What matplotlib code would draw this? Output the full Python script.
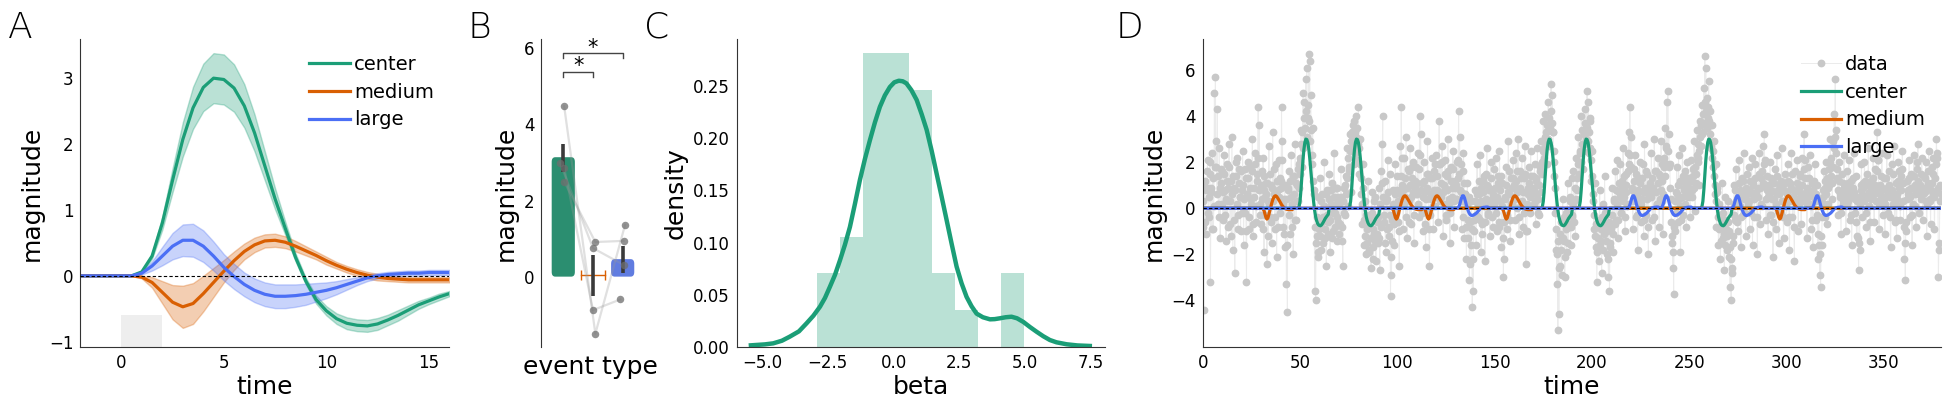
"""
Four-panel figure: response kernels, event-type betas, beta density and a simulated time series.
"""

import numpy as np
import matplotlib.pyplot as plt
from matplotlib.patches import FancyBboxPatch

plt.rcParams["font.family"] = ["DejaVu Sans"]

GREEN = "#1b9e77"
ORANGE = "#d95f02"
BLUE = "#4b6ff5"
SPINE = "#333333"

# --- panel A: kernels (time step 0.5 from -2 to 16) ---
kernel_time = np.arange(-2, 16.5, 0.5)
center_mean = [0, 0, 0, 0, 0, 0, 0.06, 0.3, 0.8, 1.45, 2.07, 2.55, 2.86, 3.0, 2.98,
               2.85, 2.58, 2.17, 1.67, 1.17, 0.72, 0.28, -0.08, -0.36, -0.53, -0.65,
               -0.72, -0.75, -0.76, -0.73, -0.67, -0.6, -0.52, -0.44, -0.38, -0.32, -0.27]
center_sem = [0, 0, 0, 0, 0, 0, 0.01, 0.04, 0.1, 0.18, 0.26, 0.32, 0.36, 0.38, 0.38,
              0.36, 0.33, 0.28, 0.22, 0.16, 0.1, 0.06, 0.05, 0.06, 0.07, 0.08,
              0.09, 0.09, 0.09, 0.09, 0.08, 0.08, 0.07, 0.06, 0.05, 0.05, 0.04]
medium_mean = [0, 0, 0, 0, 0, 0, -0.02, -0.1, -0.25, -0.4, -0.47, -0.42, -0.27, -0.1, 0.07,
               0.23, 0.37, 0.47, 0.53, 0.54, 0.51, 0.45, 0.38, 0.31, 0.23, 0.16,
               0.1, 0.05, 0.01, -0.02, -0.04, -0.05, -0.06, -0.06, -0.06, -0.06, -0.06]
medium_sem = [0, 0, 0, 0, 0, 0, 0.02, 0.08, 0.17, 0.26, 0.32, 0.31, 0.27, 0.22, 0.17,
              0.14, 0.12, 0.11, 0.1, 0.1, 0.09, 0.08, 0.07, 0.06, 0.06, 0.05,
              0.05, 0.05, 0.05, 0.05, 0.04, 0.04, 0.04, 0.04, 0.04, 0.04, 0.04]
large_mean = [0, 0, 0, 0, 0, 0, 0.04, 0.15, 0.3, 0.45, 0.54, 0.54, 0.45, 0.3, 0.13,
              -0.01, -0.13, -0.22, -0.28, -0.31, -0.31, -0.3, -0.28, -0.25, -0.22, -0.18,
              -0.13, -0.08, -0.03, 0.0, 0.02, 0.03, 0.04, 0.04, 0.05, 0.05, 0.05]
large_sem = [0, 0, 0, 0, 0, 0, 0.02, 0.07, 0.14, 0.2, 0.24, 0.25, 0.24, 0.22, 0.2,
             0.19, 0.18, 0.18, 0.18, 0.18, 0.18, 0.17, 0.16, 0.14, 0.12, 0.1,
             0.08, 0.06, 0.05, 0.04, 0.04, 0.04, 0.04, 0.04, 0.04, 0.04, 0.04]
stim_onset, stim_duration, stim_top = 0, 2, -0.6

# --- panel B: event-type magnitudes ---
event_types = ["center", "medium", "large"]
bar_heights = [3.14, 0.04, 0.46]
ci_low = [2.76, -0.5, 0.09]
ci_high = [3.5, 0.56, 0.8]
subject_values = [[4.48, -1.5, 1.36],
                  [2.86, -0.88, -0.6],
                  [2.5, 0.91, 0.94],
                  [3.0, 0.75, 0.31]]
subject_offsets = [[0.03, 0.08, 0.08],
                   [0.03, 0.0, -0.08],
                   [0.03, 0.08, 0.03],
                   [-0.11, 0.0, 0.03]]
sig_pairs = [(0, 1), (0, 2)]
sig_levels = [5.39, 5.87]

# --- panel C: beta distribution ---
hist_edges = [-2.93, -2.04, -1.17, -0.29, 0.57, 1.46, 2.34, 3.21, 4.09, 4.96]
hist_density = [0.0706, 0.1054, 0.2816, 0.2816, 0.2462, 0.0706, 0.0354, 0.0, 0.0706]
kde_x = [-5.43, -4.9, -4.58, -4.25, -3.95, -3.6, -3.31, -3.05, -2.80, -2.61,
         -2.42, -2.23, -2.04, -1.85, -1.66, -1.47, -1.28, -1.09, -0.90, -0.71,
         -0.52, -0.33, -0.14, 0.03, 0.20, 0.35, 0.49, 0.68, 0.88, 1.07,
         1.26, 1.45, 1.64, 1.83, 2.02, 2.21, 2.40, 2.59, 2.78, 2.97,
         3.16, 3.4, 3.67, 3.85, 4.05, 4.27, 4.49, 4.7, 4.94, 5.2,
         5.44, 5.7, 5.95, 6.2, 6.59, 7.0, 7.47]
kde_y = [0.0016, 0.0025, 0.0035, 0.006, 0.0099, 0.015, 0.0227, 0.030, 0.0386, 0.047,
         0.0578, 0.069, 0.083, 0.098, 0.115, 0.137, 0.16, 0.18, 0.198, 0.215,
         0.230, 0.241, 0.249, 0.2535, 0.255, 0.2545, 0.2525, 0.246, 0.2366, 0.223,
         0.208, 0.188, 0.166, 0.144, 0.1216, 0.099, 0.077, 0.061, 0.048, 0.039,
         0.032, 0.0285, 0.0265, 0.0267, 0.0275, 0.0285, 0.029, 0.0275, 0.024, 0.019,
         0.0147, 0.0103, 0.0067, 0.0045, 0.0026, 0.0015, 0.001]

# --- panel D: time series and event onsets ---
kernel_step = 0.5
center_onsets = [48.5, 74.5, 173.5, 192.5, 255.5]
medium_onsets = [30.0, 96.5, 113.0, 153.0, 293.5]
large_onsets = [130.5, 218.0, 235.0, 271.5, 312.5]
# samples at t = 0, 0.5, 1.0, ...
data_on_grid = [
    -0.8, -4.4, 1.2, -1.1, 0.9, 2.1, -0.4, 1.5, -3.2, 0.7, 2.4, -0.9, 5.0, 5.7, 1.8, 4.3, 0.2, 2.6, -1.3, 1.1,
    1.6, -0.5, 2.3, 0.8, -1.4, 1.9, 0.3, 2.8, -0.7, 1.2, 3.1, -1.8, 0.9, -2.8, 1.4, 2.2, -0.3, 1.7, 0.5, -1.0,
    0.8, 2.5, -1.6, -0.2, 1.3, -3.2, 0.6, 2.0, -0.9, 1.8, 0.4, 3.0, -1.2, 0.9, 2.4, -0.6, 1.5, 4.4, 3.6, 0.2,
    -0.7, 1.6, 2.2, -1.9, 0.5, 1.1, -2.4, 0.3, 2.7, -0.4, 1.0, -1.5, 3.3, 0.6, -0.9, 1.9, -2.1, 0.8, 2.1, -0.2,
    1.2, 4.4, 2.9, -0.8, 0.4, -1.7, -3.3, -4.5, 0.9, 1.6, -1.1, 2.3, 0.2, -2.0, 1.4, 2.8, -0.5, 1.0, 0.3, 1.9,
    2.2, 3.4, 1.8, 5.0, 4.6, 2.7, 5.6, 6.1, 3.9, 6.7, 6.4, 4.9, 2.3, 3.5, 0.8, -3.6, -4.0, -1.2, 0.5, -2.1,
    -0.9, 1.3, -1.8, 0.6, -0.4, 2.0, -1.3, -2.5, 0.8, -0.6, 1.5, -1.9, 0.2, 1.1, -1.0, 2.4, -0.2, 0.9, -1.4, 0.5,
    -1.1, 0.4, 1.7, -0.8, -2.5, 0.9, -0.3, 1.4, 2.6, 0.1, 1.8, 3.2, 0.7, 2.9, 3.6, 1.9, 3.3, 2.5, 4.0, 2.1,
    4.4, 1.5, 3.0, 0.6, -0.7, 1.9, -1.6, 0.3, -2.0, -0.9, 1.2, -1.8, -0.4, -2.6, 0.7, -2.2, -1.1, 0.5, -2.3, -0.6,
    -1.5, 0.9, -2.7, 1.6, 2.8, 4.0, -0.3, 1.2, -1.9, 0.4, 2.1, -0.8, 1.5, -3.8, -2.9, -0.5, 0.8, -1.6, 1.9, 0.2,
    1.4, -0.6, -2.5, 2.7, 4.4, 1.0, -0.9, 2.2, 0.5, 3.1, -1.3, 1.7, 0.3, 2.6, -0.7, 1.3, 2.0, -1.5, 0.9, 1.8,
    0.6, 2.4, -0.4, 4.0, 3.2, 1.1, -1.0, 2.0, 0.7, -1.7, 1.5, 2.9, -0.2, -2.5, 1.3, 0.4, 2.2, -0.9, 1.6, 0.1,
    2.3, 0.8, -0.6, 3.8, 1.9, 0.5, 2.7, -1.2, 1.0, 2.1, -0.3, 1.4, 3.0, 0.2, -1.5, 1.8, 0.9, 2.5, -0.8, 1.2,
    0.4, 2.0, 1.3, 4.2, 3.1, 0.7, -0.9, 1.6, 2.4, -1.3, 0.6, -2.2, 1.1, -0.5, -3.1, -2.4, 0.3, -4.3, -3.6, -1.0,
    0.8, -1.6, 1.9, -0.4, 0.6, 2.3, -1.9, -0.7, 1.2, 0.1, -2.3, 1.5, 2.6, -0.3, 0.9, -1.2, 2.0, 0.4, -0.8, 1.7,
    0.3, 2.2, -1.0, 1.4, -0.6, 2.5, 0.8, -1.7, 1.1, -3.0, -2.2, 0.5, 1.8, -0.9, 2.9, 0.6, -1.4, 1.3, 0.2, 2.1,
    1.0, -0.5, 2.4, 0.7, 3.0, -1.1, 1.6, 0.2, 2.2, -0.8, 1.3, 2.7, -2.4, -1.0, 0.9, 1.8, -0.2, 2.5, 0.6, 1.4,
    0.2, 1.9, -0.7, 1.2, 2.6, 0.4, -0.3, 1.8, 2.9, 1.5, 3.8, 2.6, 4.1, 3.3, 1.9, 4.6, 2.7, 3.5, 5.4, 4.9,
    3.3, 2.0, 0.9, -1.8, -3.3, -5.3, -4.6, -2.5, -0.6, -2.9, 0.4, -1.4, -3.0, -0.2, -1.9, 1.1, -0.8, 0.5, -1.6, 1.3,
    -0.4, 1.6, 0.3, -1.2, 2.2, 0.8, 3.1, 1.9, 2.5, 4.0, 3.4, 1.7, 2.8, 4.3, 3.6, 5.1, 4.6, 2.4, 3.9, 1.2,
    2.5, 0.3, -0.9, 1.1, -1.7, -3.2, -0.6, -2.3, 0.8, -1.4, -2.8, 0.2, -1.1, 1.4, -0.3, -2.0, -0.7, -3.0, -3.6, -1.5,
    -0.8, 0.9, -1.9, 0.3, 1.6, -0.5, 2.1, -1.3, 0.7, 1.9, -0.2, 1.2, 2.6, 0.5, -1.0, 1.5, 0.1, 2.4, 3.3, 4.4,
    3.1, 0.8, -0.9, 1.7, 2.3, -0.4, 0.6, -1.8, 1.3, 2.0, -0.6, 0.4, 1.9, -1.2, 2.8, 0.7, -0.3, 1.5, -2.0, 0.9,
    1.1, 2.4, -0.5, 0.8, 3.0, -1.4, 1.6, 0.2, 2.2, -0.8, 1.4, 2.9, 0.3, -1.1, 1.8, 3.5, 2.6, 4.6, 5.1, 3.2,
    1.9, 0.4, -1.5, -2.6, -3.7, -1.0, 0.7, 1.8, -0.6, 2.3, 0.1, -1.9, 1.2, 2.6, -0.3, 0.9, 1.6, -0.8, 2.0, 0.5,
    1.3, -0.4, 2.1, 0.8, 1.7, 2.9, -0.1, 1.5, 3.4, 2.2, 1.0, 3.8, 2.7, 4.5, 3.3, 5.2, 6.6, 6.1, 4.8, 3.9,
    5.5, 4.2, 2.6, 3.6, 1.8, 2.9, 0.6, 1.9, -0.8, 0.9, -1.6, 0.2, -2.2, -0.4, 1.1, -1.3, -2.7, 0.5, -0.9, -1.8,
    0.3, -2.1, -3.4, -4.0, -2.8, -1.2, 1.0, -0.5, 1.7, 0.4, -1.0, 2.1, 0.8, -1.7, 1.3, -0.3, 2.4, 0.6, -1.2, 1.5,
    0.2, 1.8, -0.9, 0.7, 2.2, -1.6, 1.1, -0.4, 1.9, 0.5, -2.0, 0.9, 2.4, -0.7, 1.3, 0.1, 2.7, 3.2, 1.0, -0.5,
    1.4, -1.1, 0.6, 2.0, -0.3, 1.2, -2.1, 0.4, 1.7, -0.9, 2.3, 0.8, -1.5, 1.0, -0.2, 2.6, 0.3, -1.3, 1.5, 0.7,
    -0.6, 1.9, 0.5, -1.8, 1.1, 2.4, -0.4, 0.8, -2.3, 1.6, 0.2, 2.1, -1.0, 0.9, 1.5, -0.7, 2.2, 0.4, 3.2, 1.3,
    0.6, -1.3, 1.8, 0.2, 2.3, -0.9, 1.1, -1.7, 0.5, 1.9, -0.5, 1.0, -2.2, 0.3, -2.9, -3.4, -1.6, 0.8, 1.6, -0.4,
    1.2, 2.0, -0.7, 0.9, 1.7, 3.0, 2.2, 0.4, 2.9, 4.1, 5.6, 3.4, 1.3, -0.3, 2.0, 0.6, -1.1, 1.5, 0.2, 2.3,
    0.7, -1.0, 1.6, 0.3, 2.1, -0.5, 1.2, -1.6, 0.9, 2.4, -0.2, 1.4, -1.2, 0.5, -2.7, -1.8, 0.8, 1.9, -0.4, 1.1,
    2.0, 0.4, -0.8, 1.5, 2.6, 0.1, -1.4, 1.2, 0.6, 2.2, -0.6, 1.7, 0.3, 3.3, 2.1, -0.9, 1.0, 0.5, 2.4, -0.3,
    1.3, -1.1, 0.8, 2.3, -0.2, 1.6, 0.5, -1.7, 1.9, 0.2, 2.7, -0.6, 1.1, -1.3, 0.6, 2.0, 0.9, -0.5, 1.4, 2.5,
    0.3, -2.2, -3.1, -1.0, 1.2, 0.6, 2.1, -0.4, 1.5, -1.6, 0.9, 2.3, 0.1, -0.8, 1.7, 2.8, -0.2, 1.0, 0.4, 2.2,
    -0.5, 1.4, 0.7, 2.0, -1.2, 1.1, 2.5, 0.3, -0.7, 1.8, 0.6, 2.2, -0.9, 1.3, 3.0, 2.4, -3.0, -1.5, 1.0, 0.4,
]
# samples at t = 0.25, 0.75, 1.25, ...
data_between = [
    0.3, 1.1, -0.6, 0.8, 1.6, -0.2, 0.5, 2.0, 0.9, -0.9, 1.3, 0.1, 1.8, 2.9, 0.6, 1.4, -0.4, 0.9, 1.7, 0.2,
    0.7, 1.5, -0.3, 0.4, 1.2, -0.8, 0.9, 1.8, 0.3, -1.2, 0.6, 1.4, -0.5, 0.8, 2.0, 0.2, -0.9, 1.1, 0.5, 1.6,
    -0.2, 1.0, 0.4, 1.7, -1.0, 0.6, 1.3, -0.4, 0.9, 0.2, 1.6, -0.7, 0.5, 1.9, 0.1, 1.2, 2.2, 0.8, -0.3, 1.0,
    0.4, -0.9, 0.8, 1.4, -0.3, 0.6, 1.1, -1.2, 0.2, 1.5, -0.6, 0.9, 0.3, 1.7, -0.4, 0.7, 1.2, -0.8, 0.5, 1.3,
    0.9, 2.1, 0.2, -1.1, 1.0, 0.4, -1.6, 0.8, -0.3, 1.2, 0.5, -0.8, 1.4, 0.6, -0.5, 1.1, 0.3, 1.7, 0.9, 1.5,
    2.0, 2.8, 3.3, 2.6, 3.9, 3.5, 4.2, 3.1, 4.5, 3.8, 2.9, 3.4, 1.9, 1.2, 0.6, -0.8, -1.5, -0.4, -1.9, -0.7,
    -1.2, 0.3, -0.6, -1.5, 0.1, -0.9, 0.6, -0.3, -1.1, 0.4, -0.5, 0.8, -1.3, -0.2, 0.5, -0.8, 0.2, -0.4, 0.9, -0.6,
    0.2, -0.7, 0.5, -1.4, 0.3, -0.2, 1.0, 0.6, 1.3, 2.2, 1.6, 2.5, 2.9, 3.3, 2.7, 3.8, 2.4, 3.1, 3.5, 2.8,
    2.6, 1.9, 1.3, 0.2, 0.9, -0.5, -1.2, -0.3, -1.5, -0.8, -1.9, -0.6, -1.3, -0.2, -1.7, -0.9, 0.3, -1.4, -0.5, -1.1,
    -0.4, -1.3, 0.2, -0.8, 1.1, 0.5, -0.6, -1.5, 0.3, -0.9, 0.7, -1.2, -0.3, -2.1, -1.4, 0.2, -0.7, 0.6, -0.2, 0.8,
    0.3, -1.0, 0.6, 1.4, 2.2, 0.8, 0.2, 1.3, -0.4, 0.9, 0.4, 1.6, -0.6, 1.0, 0.5, 1.8, 0.7, -0.3, 1.2, 0.6,
    1.1, 0.2, 1.7, 2.3, 0.8, -0.2, 0.5, 1.2, -0.7, 0.4, 0.9, 1.5, -0.9, -0.3, 0.6, 1.3, 0.1, 0.8, 1.9, 0.5,
    1.4, 0.6, 1.9, 0.3, 1.1, 2.0, 0.7, 0.2, 1.5, 0.9, -0.5, 0.8, 1.6, 0.4, -0.2, 1.2, 0.5, 1.7, 0.3, 0.9,
    1.0, 0.4, 2.1, 1.5, 0.8, 1.9, 0.3, -0.4, 1.1, 0.6, -0.8, 0.2, -1.3, 0.5, -0.6, -1.6, -0.9, -2.2, -0.5, 0.3,
    -0.3, 0.6, 0.1, 1.2, -0.5, 0.9, 0.3, -1.1, 0.7, 1.4, -0.6, 0.4, 1.0, -0.2, 0.8, 0.2, 1.3, -0.4, 0.6, 0.1,
    0.9, -0.2, 0.5, 1.1, -0.8, 0.3, 1.4, 0.1, -1.3, -0.6, 0.4, 1.0, -0.3, 0.7, 1.6, -0.5, 0.2, 0.9, 1.3, 0.5,
    0.4, 1.2, 0.0, 1.6, 0.8, -0.4, 0.9, 1.3, 0.3, 0.7, -0.2, 1.5, -1.0, 0.2, 0.6, 1.1, 0.5, 1.4, 0.1, 0.8,
    0.9, 0.3, 1.3, 0.6, -0.2, 1.0, 1.6, 0.7, 2.0, 2.5, 2.2, 3.1, 2.8, 3.6, 3.0, 3.9, 3.4, 4.2, 3.7, 3.3,
    2.5, 1.4, -0.2, -0.9, -2.0, -1.4, -2.6, -1.1, -1.8, -0.6, -1.3, -0.4, -2.1, -0.9, -0.2, -1.5, -0.7, 0.3, -0.8, -0.3,
    0.2, -0.6, 0.9, 0.4, 1.3, 1.9, 1.5, 2.4, 2.0, 2.8, 2.5, 3.2, 3.7, 3.0, 3.5, 2.9, 3.3, 3.8, 2.6, 2.1,
    1.4, 0.6, -0.3, -1.2, -0.7, -1.9, -1.3, -0.5, -1.6, -0.9, -0.4, -1.8, -0.8, -0.2, -1.4, -1.0, -2.2, -0.6, -1.7, -0.9,
    -0.3, -1.1, 0.4, -0.7, 0.8, 0.2, -0.5, 1.1, 0.5, -0.2, 0.9, 0.3, 1.4, -0.4, 0.7, 1.0, 0.2, 1.6, 1.9, 2.3,
    1.8, 0.9, 0.3, 1.2, 0.6, 1.5, -0.3, 0.8, 0.4, 1.1, 0.2, 1.3, 0.7, -0.5, 0.9, 1.6, 0.4, -0.8, 0.6, 1.0,
    0.5, 1.3, 0.9, -0.4, 1.6, 0.7, 0.2, 1.1, 1.5, 0.4, 0.8, 1.9, 1.2, 0.6, 2.2, 1.4, 2.7, 1.9, 2.5, 1.8,
    0.9, -0.6, -1.2, -1.9, -0.8, 0.3, -0.2, 0.6, 1.0, 0.4, 1.2, -0.5, 0.5, 1.4, 0.8, 0.2, 1.1, 0.6, 1.3, 0.9,
    0.7, 1.2, 0.5, 1.4, 0.9, 1.8, 1.1, 2.3, 2.0, 2.8, 2.5, 3.1, 3.6, 3.2, 4.1, 3.7, 4.6, 4.2, 3.5, 4.4,
    3.8, 3.2, 2.7, 2.2, 2.5, 1.4, 1.0, 0.3, 0.7, -0.4, -0.9, -0.3, -1.4, -0.7, -0.2, -1.1, -1.6, -0.5, -1.2, -0.6,
    -1.0, -1.7, -2.2, -2.6, -1.5, -0.3, 0.2, 0.8, 0.3, -0.6, 0.5, 1.1, 0.1, -0.4, 0.7, 1.2, 0.4, -0.2, 0.9, 0.6,
    0.8, 0.3, 1.2, -0.2, 0.6, 1.0, 0.4, 1.3, 0.7, -0.4, 0.5, 1.5, 0.9, 0.2, 1.6, 1.1, 1.9, 2.1, 0.4, 0.8,
    0.5, 1.0, -0.3, 0.8, 1.3, 0.4, -0.6, 1.1, 0.7, 0.2, 1.4, -0.1, 0.6, 0.9, 1.2, 0.3, -0.4, 0.8, 1.1, 0.1,
    0.6, 1.2, -0.4, 0.3, 0.9, 1.5, 0.5, -0.8, 0.7, 0.4, 1.1, 0.8, 0.2, 1.4, 0.6, 1.0, 0.3, 1.7, 2.1, 0.7,
    0.2, 0.9, 0.5, 1.3, 0.6, 0.1, -0.5, 0.8, 1.2, 0.3, 0.6, -0.3, -1.1, -1.6, -2.0, -1.2, -0.4, 0.5, 0.2, 0.9,
    0.6, 1.3, 0.2, 1.0, 2.0, 1.4, 1.1, 1.8, 2.6, 3.1, 2.4, 1.7, 0.8, 1.2, 0.5, -0.2, 0.7, 0.3, 1.1, 0.9,
    0.4, 0.8, 0.2, 1.1, 0.6, 0.9, -0.3, 0.5, 1.3, 0.7, 0.4, -0.6, 0.3, -1.3, -1.5, 0.2, 1.0, 0.6, 0.9, 0.3,
    1.2, -0.2, 0.5, 1.0, 0.7, -0.6, 0.4, 0.8, 1.3, 0.6, 1.0, 0.9, 1.6, 2.1, 0.8, 0.2, 0.6, 1.4, 0.9, 0.5,
    0.4, 0.2, 1.3, 0.9, 0.6, 1.0, -0.4, 0.7, 0.8, 1.5, 0.5, 0.3, -0.5, 0.4, 1.2, 1.6, 0.1, 0.8, 1.7, 1.1,
    -0.8, -1.5, -0.6, 0.4, 0.8, 1.3, 0.5, 0.9, -0.3, 0.2, 1.4, 1.0, 0.6, 0.7, 2.0, 1.2, 0.6, 0.9, 1.5, 0.8,
    0.6, 0.9, 1.3, 0.3, 0.2, 1.6, 1.0, 0.4, 0.8, 1.1, 1.5, 0.5, 0.7, 1.9, 2.2, 0.9, -1.8, 0.3, 0.6, 1.2,
]

W, H = 1950, 408
fig = plt.figure(figsize=(W / 100, H / 100), dpi=100)


def add_axes_px(left, right, top=39.3, bottom=347):
    """Add axes positioned in figure pixels (origin top-left)."""
    return fig.add_axes([left / W, 1 - bottom / H, (right - left) / W, (bottom - top) / H])


def style(ax, bottom=True):
    """Left/bottom spines only, no tick marks."""
    ax.spines["top"].set_visible(False)
    ax.spines["right"].set_visible(False)
    ax.spines["left"].set_color(SPINE)
    ax.spines["bottom"].set_color(SPINE)
    ax.spines["bottom"].set_visible(bottom)
    ax.tick_params(length=0, labelsize=12, pad=5)


def place_kernels(onsets, kernel, n):
    """Put the post-onset part of a kernel at each onset of an n-sample series."""
    post = np.asarray(kernel)[kernel_time >= 0]
    series = np.zeros(n)
    for onset in onsets:
        i = int(round(onset / kernel_step))
        seg = post[: max(0, min(len(post), n - i))]
        series[i:i + len(seg)] += seg
    return series


# ---------------- A ----------------
ax = add_axes_px(80.3, 449.3)
style(ax)
ax.set_xlim(-2, 16)
ax.set_ylim(-1.08, 3.59)
ax.fill_between([stim_onset, stim_onset + stim_duration], -1.08, stim_top,
                color="#eeeeee", lw=0, zorder=0)
for name, mean, sem, col in [("center", center_mean, center_sem, GREEN),
                             ("medium", medium_mean, medium_sem, ORANGE),
                             ("large", large_mean, large_sem, BLUE)]:
    m = np.asarray(mean)
    s = np.asarray(sem)
    ax.fill_between(kernel_time, m - s, m + s, color=col, alpha=0.3, lw=1)
    ax.plot(kernel_time, m, color=col, lw=2.3, label=name)
ax.axhline(0, color="black", lw=0.8, ls=(0, (3, 2)), zorder=5)
ax.set_xticks([0, 5, 10, 15])
ax.set_yticks([-1, 0, 1, 2, 3])
ax.set_xlabel("time", fontsize=18, labelpad=2)
ax.set_ylabel("magnitude", fontsize=18)
ax.legend(loc="upper right", frameon=False, fontsize=14, handlelength=2.1,
          handletextpad=0.2, labelspacing=0.45, borderaxespad=0.4)

# ---------------- B ----------------
ax = add_axes_px(541.3, 640.5)
style(ax, bottom=False)
ax.set_xlim(-0.74, 2.6)
ax.set_ylim(-1.85, 6.24)
bar_colors = ["#2b8e70", ORANGE, "#607ce0"]
for i, (h, col) in enumerate(zip(bar_heights, bar_colors)):
    if i == 1:
        ax.plot([i - 0.39, i + 0.39], [h, h], color=col, lw=1, marker="|", ms=7, mew=1)
    else:
        ax.add_patch(FancyBboxPatch((i - 0.39, 0), 0.78, h,
                                    boxstyle="round,pad=0,rounding_size=0.12",
                                    fc=col, ec="none", zorder=1))
for vals, offs in zip(subject_values, subject_offsets):
    xs = np.arange(len(vals)) + np.asarray(offs)
    ax.plot(xs, vals, color="#999999", lw=1.6, alpha=0.3, zorder=2)
ax.vlines(range(len(event_types)), ci_low, ci_high, color="#3a3a3a", lw=2.6, zorder=3)
for vals, offs in zip(subject_values, subject_offsets):
    xs = np.arange(len(vals)) + np.asarray(offs)
    ax.plot(xs, vals, ls="none", marker="o", ms=5.4, color="#6e6e6e", alpha=0.75,
            mec="none", zorder=4)
for (a, b), level in zip(sig_pairs, sig_levels):
    ax.plot([a, a, b, b], [level - 0.13, level, level, level - 0.13], color="#444444", lw=1)
    ax.text((a + b) / 2, level - 0.02, "*", ha="center", va="baseline", fontsize=15)
ax.set_xticks([])
ax.set_yticks([0, 2, 4, 6])
ax.set_xlabel("event type", fontsize=18, labelpad=6)
ax.set_ylabel("magnitude", fontsize=18)

# ---------------- C ----------------
ax = add_axes_px(736.7, 1105.3)
style(ax)
ax.set_xlim(-5.97, 8.06)
ax.set_ylim(0, 0.2947)
ax.bar(hist_edges[:-1], hist_density, width=np.diff(hist_edges), align="edge",
       color=GREEN, alpha=0.3, lw=0)
ax.plot(kde_x, kde_y, color=GREEN, lw=3.2)
ax.set_xticks([-5.0, -2.5, 0.0, 2.5, 5.0, 7.5])
ax.set_xticklabels(["−5.0", "−2.5", "0.0", "2.5", "5.0", "7.5"])
ax.set_yticks([0.0, 0.05, 0.10, 0.15, 0.20, 0.25])
ax.set_yticklabels(["0.00", "0.05", "0.10", "0.15", "0.20", "0.25"])
ax.set_xlabel("beta", fontsize=18, labelpad=2)
ax.set_ylabel("density", fontsize=18)

# ---------------- D ----------------
ax = add_axes_px(1202.7, 1940.7)
style(ax)
n_grid = len(data_on_grid)
t_grid = np.arange(n_grid) * kernel_step
data_t = np.concatenate([t_grid, t_grid + kernel_step / 2])
data_v = np.concatenate([data_on_grid, data_between])
order = np.argsort(data_t, kind="stable")
ax.plot(data_t[order], data_v[order], color="#ebebeb", lw=0.7, marker="o", ms=4.6,
        mfc="#c8c8c8", mec="#c8c8c8", label="data", zorder=1)
for name, onsets, kernel, col in [("center", center_onsets, center_mean, GREEN),
                                  ("medium", medium_onsets, medium_mean, ORANGE),
                                  ("large", large_onsets, large_mean, BLUE)]:
    ax.plot(t_grid, place_kernels(onsets, kernel, n_grid), color=col, lw=2.3,
            label=name, zorder=2)
ax.axhline(0, color="black", lw=0.8, ls=(0, (3, 2)), zorder=5)
ax.set_xlim(0, 379.2)
ax.set_ylim(-6.02, 7.33)
ax.set_xticks(range(0, 351, 50))
ax.set_yticks([-4, -2, 0, 2, 4, 6])
ax.set_xlabel("time", fontsize=18, labelpad=2)
ax.set_ylabel("magnitude", fontsize=18)
ax.legend(loc="upper right", frameon=False, fontsize=14, handlelength=2.1,
          handletextpad=0.2, labelspacing=0.45, borderaxespad=0.4)

# panel letters
for letter, x_px in [("A", 8), ("B", 467), ("C", 644), ("D", 1116)]:
    fig.text(x_px / W, 1 - 38 / H, letter, fontsize=26, va="baseline", ha="left",
             fontweight="light")

fig.savefig("out.png", dpi=100)
